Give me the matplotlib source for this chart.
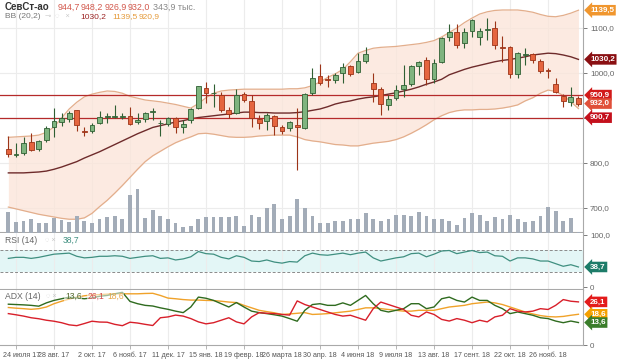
import matplotlib
matplotlib.use("Agg")
import matplotlib.pyplot as plt
from matplotlib.patches import Rectangle
import matplotlib.transforms as mtrans

plt.rcParams['font.family'] = ['Liberation Sans', 'DejaVu Sans']

# ---------------- data (weekly candles) ----------------
opens = [830, 818, 822, 847, 830, 851, 881, 892, 897, 918, 871, 870, 888, 902, 903, 902, 904, 890, 897, 913,
         888, 886, 899, 881, 896, 922, 966, 955, 951, 918, 910, 953, 938, 897, 893, 904, 881, 877, 884, 878,
         955, 993, 986, 984, 999, 1016, 1003, 1027, 978, 964, 929, 944, 964, 975, 1016, 1029, 986, 1025, 1079, 1092,
         1066, 1094, 1079, 1096, 1099, 1058, 1058, 998, 1040, 1042, 1027, 1007, 976, 949, 936, 944.7]
highs = [860, 844, 857, 866, 851, 882, 923, 910, 916, 918, 881, 888, 916, 912, 929, 912, 925, 910, 914, 922,
         896, 903, 902, 896, 922, 971, 981, 976, 958, 925, 964, 958, 951, 907, 910, 907, 884, 893, 922, 955,
         1010, 1019, 996, 1001, 1023, 1018, 1044, 1058, 1001, 968, 951, 973, 1018, 1018, 1027, 1035, 1030, 1079, 1109, 1109,
         1099, 1119, 1099, 1122, 1116, 1082, 1060, 1047, 1055, 1045, 1030, 1010, 988, 953, 968, 948.2]
lows = [813, 814, 818, 827, 827, 847, 858, 882, 892, 872, 860, 867, 887, 888, 899, 897, 884, 887, 892, 896,
        860, 883, 867, 867, 888, 919, 933, 925, 914, 901, 908, 936, 881, 875, 873, 862, 864, 870, 784, 875,
        951, 973, 968, 977, 978, 993, 1001, 1022, 936, 907, 918, 940, 947, 971, 996, 973, 978, 1022, 1070, 1055,
        1055, 1079, 1062, 1073, 1053, 1025, 988, 988, 1018, 1023, 1001, 988, 955, 925, 927, 926.9]
closes = [819, 819, 844, 829, 849, 878, 893, 899, 912, 884, 869, 884, 902, 904, 904, 902, 887, 896, 910, 913,
          888, 901, 881, 886, 919, 970, 955, 955, 918, 908, 950, 940, 899, 888, 907, 883, 872, 890, 881, 953,
          988, 978, 984, 996, 1013, 998, 1027, 1042, 964, 931, 942, 962, 973, 1016, 1025, 987, 1023, 1077, 1090, 1062,
          1090, 1118, 1094, 1098, 1062, 1055, 998, 1044, 1042, 1029, 1005, 1005, 958, 938, 946, 932.0]
volumes = [6900, 3500, 3900, 4600, 3300, 3300, 5000, 4200, 3500, 5500, 3900, 3100, 4400, 5300, 5500, 4400, 12300, 14300, 5000, 7500,
           5500, 4400, 3100, 2000, 2200, 4600, 5200, 5300, 5300, 5300, 5700, 2400, 6000, 5300, 8300, 9300, 4400, 5700, 11000, 8300,
           5700, 3300, 3100, 3900, 3900, 4400, 4400, 6600, 4600, 3900, 4400, 6000, 6000, 5500, 6800, 5500, 4600, 4400, 3900, 2700,
           5000, 6400, 6000, 3900, 5300, 4600, 6000, 4600, 3700, 3900, 5500, 8600, 7200, 3900, 5000, 343.9]
bb_upper = [857, 858, 859, 860, 862, 868, 880, 900, 920, 935, 947, 953, 957, 960, 959, 955, 948, 944, 940, 938,
            936, 933, 930, 926, 922, 932, 945, 955, 960, 962, 963, 964, 964, 964, 964, 964, 964, 965, 965, 967,
            972, 980, 990, 998, 1008, 1025, 1044, 1050, 1055, 1057, 1058, 1059, 1061, 1063, 1065, 1068, 1072, 1080, 1090, 1100,
            1112, 1122, 1131, 1136, 1139, 1140, 1140, 1140, 1138, 1135, 1130, 1126, 1125, 1128, 1133, 1139.5]
bb_mid = [778, 778, 778, 779, 780, 782, 786, 791, 797, 803, 811, 818, 825, 833, 841, 849, 857, 865, 872, 879,
          883, 887, 891, 894, 898, 901, 903, 905, 907, 909, 911, 913, 913, 912, 912, 911, 911, 911, 912, 914,
          917, 920, 925, 931, 935, 938, 942, 945, 947, 950, 953, 956, 960, 964, 969, 975, 980, 986, 996, 1002,
          1008, 1013, 1017, 1021, 1025, 1028, 1030, 1033, 1036, 1040, 1042, 1044, 1043, 1040, 1036, 1030.2]
bb_lower = [702, 698, 694, 690, 686, 683, 680, 677, 675, 675, 678, 688, 703, 717, 733, 750, 768, 786, 803, 816,
            826, 836, 845, 852, 858, 865, 866, 864, 861, 858, 857, 857, 858, 860, 861, 862, 862, 862, 858, 852,
            849, 847, 844, 841, 840, 838, 838, 841, 844, 846, 848, 852, 858, 866, 875, 885, 896, 905, 912, 916,
            918, 918, 919, 919, 920, 922, 925, 929, 938, 945, 955, 962, 959, 950, 936, 920.9]
rsi = [55, 57, 57, 55, 57, 60, 63, 64, 65, 59, 56, 57, 59, 59, 60, 59, 55, 57, 59, 60,
       55, 56, 52, 54, 58, 68, 64, 63, 57, 54, 60, 57, 50, 49, 52, 48, 46, 49, 48, 60,
       65, 62, 61, 63, 65, 62, 65, 67, 56, 50, 53, 56, 58, 64, 65, 58, 63, 69, 70, 64,
       67, 70, 66, 67, 60, 59, 50, 56, 56, 54, 50, 50, 45, 40, 43, 38.7]
di_plus = [24.7, 24.5, 24.3, 24, 23.5, 25.5, 27, 28, 29, 28.5, 28, 28.5, 29.5, 30, 31, 31.9, 26.4, 25, 24, 23.6,
           22.5, 21.6, 20.5, 19.6, 23, 29, 28.3, 27, 25, 23, 25.7, 23, 20.5, 19.6, 19, 18.3, 17.5, 16, 14.4, 21,
           24.5, 25, 24, 24, 25.5, 24, 27, 30, 25, 21, 20, 21, 22, 25, 25, 22, 23, 28, 29, 27,
           26, 29, 27, 27, 24, 22, 19, 20, 19, 18, 16.5, 16, 14.5, 13.5, 14.5, 13.6]
di_minus = [19, 18.3, 17.5, 16.5, 15.9, 15, 14.4, 13.5, 12.2, 11.7, 13, 14.4, 13.9, 13.8, 12.5, 11.7, 13.8, 13.3, 12.5, 11.8,
            16.5, 17, 18.1, 17.5, 16, 14, 12.8, 13.5, 15, 16.5, 14, 12.8, 17, 19.6, 19.2, 19, 18.5, 18.1, 26.7, 24.5,
            23, 21.5, 20, 18.5, 17.5, 18, 16.5, 15, 22, 26, 24.5, 23, 21.5, 18, 17, 20, 18.5, 15.5, 14.5, 16,
            15, 13.5, 15, 14, 17, 18, 22, 20.5, 20, 20.5, 22, 21.5, 24, 27.5, 26.5, 26.1]
adx = [22.7, 22.3, 22, 21.6, 22, 23, 25, 26.5, 27.8, 29, 29.8, 30.3, 30.5, 30.8, 31, 31, 31, 31, 31.2, 31.3,
       30, 28.4, 28, 27.5, 27.2, 27.2, 27, 26.9, 26.5, 26, 25.7, 24, 22.5, 21, 20.2, 19.5, 18.5, 18.8, 19.2, 19.6,
       18.5, 18.7, 19, 19.5, 20, 20.5, 21.5, 22.5, 22.5, 22, 21.5, 21, 20.5, 20.5, 21, 21, 21, 22, 23, 23.5,
       24, 25, 25.5, 26, 25.5, 24.5, 23, 21.5, 20, 18.8, 17.8, 17.2, 17, 17.3, 18, 18.6]
level_lines = [950.9, 900.7]
tick_pos = [1, 6, 11, 16, 21, 26, 31, 36, 41, 46, 51, 56, 61, 66, 71]
tick_labels = ["24 июля 17", "28 авг. 17", "2 окт. 17", "6 нояб. 17", "11 дек. 17", "15 янв. 18",
               "19 февр. 18", "26 марта 18", "30 апр. 18", "4 июня 18", "9 июля 18", "13 авг. 18",
               "17 сент. 18", "22 окт. 18", "26 нояб. 18"]
price_ticks = [700, 800, 900, 1000, 1100]

# ---------------- layout ----------------
W, H = 631, 359
fig = plt.figure(figsize=(W / 100, H / 100), dpi=100)
fig.patch.set_facecolor('white')


def rect(l, t, r, b):
    return [l / W, 1 - b / H, (r - l) / W, (b - t) / H]


ax = fig.add_axes(rect(0, 0, 583, 233))
ax_vol = fig.add_axes(rect(0, 0, 583, 233), sharex=ax)
ax_rsi = fig.add_axes(rect(0, 233, 583, 290), sharex=ax)
ax_adx = fig.add_axes(rect(0, 290, 583, 345), sharex=ax)

n = len(closes)
xs = list(range(n))
GRID = '#ececec'
SPINE = '#a9a9a9'
LBL = '#666666'
FS = 5.8

for a in (ax, ax_vol, ax_rsi, ax_adx):
    for s in ('left', 'top'):
        a.spines[s].set_visible(False)
    for s in ('right', 'bottom'):
        a.spines[s].set_color(SPINE)
    a.set_xlim(-1.1, 75.6)
    a.set_xticks(tick_pos)
    a.grid(axis='x', color=GRID, lw=0.8)
    a.set_axisbelow(True)
    a.yaxis.tick_right()
    a.tick_params(axis='y', labelsize=FS, colors=LBL, length=3, pad=2, width=0.6)
    a.tick_params(axis='x', length=3, width=0.6, colors=SPINE)

ax_vol.patch.set_visible(False)
ax_vol.set_zorder(ax.get_zorder() + 1)
ax_vol.axis('off')
ax_vol.set_ylim(0, 230 * 330)
ax_vol.bar(xs, volumes, width=0.5, color='#a3acb8', edgecolor='none')

# ---------------- price panel ----------------
ax.set_ylim(644.4, 1162.2)
ax.set_yticks(price_ticks)
ax.set_yticklabels([f"{v:.1f}".replace('.', ',') for v in price_ticks])
ax.grid(axis='y', color=GRID, lw=0.8)
ax.tick_params(axis='x', labelbottom=False)
ax.spines['bottom'].set_linewidth(1.5)

ax.fill_between(xs, bb_lower, bb_upper, color='#fbe4d8', alpha=0.75, lw=0, zorder=1)
ax.plot(xs, bb_upper, color='#e3ae8c', lw=0.9, zorder=2)
ax.plot(xs, bb_lower, color='#e3ae8c', lw=0.9, zorder=2)
ax.plot(xs, bb_mid, color='#6e2b2b', lw=1.0, zorder=2)
for lv in level_lines:
    ax.axhline(lv, color='#b52a2a', lw=0.9, zorder=3)

w = 0.62
for i in xs:
    o, h, l, c = opens[i], highs[i], lows[i], closes[i]
    up = c >= o
    fc = '#7fb47f' if up else '#e5653f'
    ec = '#2f5f33' if up else '#9c3418'
    ax.vlines(i, l, h, color=ec, lw=0.8, zorder=4)
    body = max(abs(c - o), 1.5)
    ax.add_patch(Rectangle((i - w / 2, min(o, c)), w, body, facecolor=fc,
                           edgecolor=ec, lw=0.6, zorder=5))


def tag(a, y, text, color):
    a.text(1.012, y, text, transform=a.get_yaxis_transform(), ha='left', va='center',
           fontsize=FS, color='white', fontweight='bold', clip_on=False, zorder=20,
           bbox=dict(boxstyle='larrow,pad=0.22', fc=color, ec='none'))


tag(ax, bb_upper[-1], "1139,5", '#f0962e')
tag(ax, bb_mid[-1], "1030,2", '#8a0f12')
tag(ax, level_lines[0], "950,9", '#d21a1a')
tag(ax, closes[-1], "932,0", '#e0503a')
tag(ax, level_lines[1], "900,7", '#c4101c')


# header
def ftext(x, y, s, color, bold=False, size=FS + 0.6):
    fig.text(x / W, 1 - y / H, s, color=color, fontsize=size, va='center', ha='left',
             fontweight='bold' if bold else 'normal')


ftext(5, 7, "СевСт-ао", '#333333', bold=True, size=FS + 1.2)
ftext(58, 7, "944,7", '#d2584c')
ftext(81, 7, "948,2", '#d2584c')
ftext(105, 7, "926,9", '#d2584c')
ftext(128, 7, "932,0", '#d2584c')
ftext(153, 7, "343,9 тыс.", '#888888')
ftext(5, 17, "BB (20,2)", '#777777', size=FS + 0.2)
ftext(45, 17, "⊸  ◌   ×", '#c8c8c8', size=FS - 0.5)
ftext(80, 17, "1030,2", '#9b2323', size=FS + 0.2)
ftext(112, 17, "1139,5", '#e59a3a', size=FS + 0.2)
ftext(139, 17, "920,9", '#e59a3a', size=FS + 0.2)

# ---------------- RSI panel ----------------
ax_rsi.set_ylim(-5, 103.2)
ax_rsi.set_yticks([0, 100])
ax_rsi.set_yticklabels(["0", "100,0"])
ax_rsi.tick_params(axis='x', labelbottom=False)
ax_rsi.spines['bottom'].set_linewidth(1.5)
ax_rsi.axhspan(30, 70, color='#e3f6f6', lw=0, zorder=0)
ax_rsi.axhline(70, color='#8a8a8a', lw=0.7, ls=(0, (3, 2)))
ax_rsi.axhline(30, color='#8a8a8a', lw=0.7, ls=(0, (3, 2)))
ax_rsi.plot(xs, rsi, color='#3f8f80', lw=0.9)
ax_rsi.text(5 / 583, 0.87, "RSI (14)", transform=ax_rsi.transAxes, fontsize=FS + 0.4,
            color='#666666', va='center')
ax_rsi.text(45 / 583, 0.87, "◌ ×", transform=ax_rsi.transAxes, fontsize=FS - 0.5,
            color='#c8c8c8', va='center')
ax_rsi.text(63 / 583, 0.87, "38,7", transform=ax_rsi.transAxes, fontsize=FS + 0.4,
            color='#3f8f80', va='center')
tag(ax_rsi, rsi[-1], "38,7", '#1d7c69')

# ---------------- ADX panel ----------------
ax_adx.set_ylim(0, 33.3)
ax_adx.set_yticks([0])
ax_adx.set_yticklabels(["0"])
ax_adx.plot(xs, adx, color='#f0a22a', lw=1.0)
ax_adx.plot(xs, di_plus, color='#2f6b1f', lw=1.0)
ax_adx.plot(xs, di_minus, color='#d81f2a', lw=1.0)
box = dict(boxstyle='square,pad=0.1', fc='white', ec='none', alpha=0.55)
ax_adx.text(5 / 583, 0.88, "ADX (14)", transform=ax_adx.transAxes, fontsize=FS + 0.4,
            color='#666666', va='center', bbox=box)
ax_adx.text(46 / 583, 0.88, "◌ ×", transform=ax_adx.transAxes, fontsize=FS - 0.5,
            color='#c8c8c8', va='center')
ax_adx.text(65 / 583, 0.88, "13,6", transform=ax_adx.transAxes, fontsize=FS + 0.4,
            color='#556b2f', va='center', bbox=box)
ax_adx.text(88 / 583, 0.88, "26,1", transform=ax_adx.transAxes, fontsize=FS + 0.4,
            color='#d04a4a', va='center', bbox=box)
ax_adx.text(107 / 583, 0.88, "18,6", transform=ax_adx.transAxes, fontsize=FS + 0.4,
            color='#e8a84a', va='center', bbox=box)
tag(ax_adx, di_minus[-1], "26,1", '#e31b1b')
tag(ax_adx, adx[-1], "18,6", '#f5a000')
tag(ax_adx, di_plus[-1], "13,6", '#3a7d2a')

ax_adx.set_xticklabels(tick_labels)
ax_adx.tick_params(axis='x', labelsize=5.1, labelcolor='#555555', pad=2)
first = ax_adx.get_xticklabels()[0]
first.set_horizontalalignment('left')
first.set_transform(first.get_transform() + mtrans.ScaledTranslation(-13 / 100, 0, fig.dpi_scale_trans))

fig.savefig("out.png", dpi=100, facecolor='white')
